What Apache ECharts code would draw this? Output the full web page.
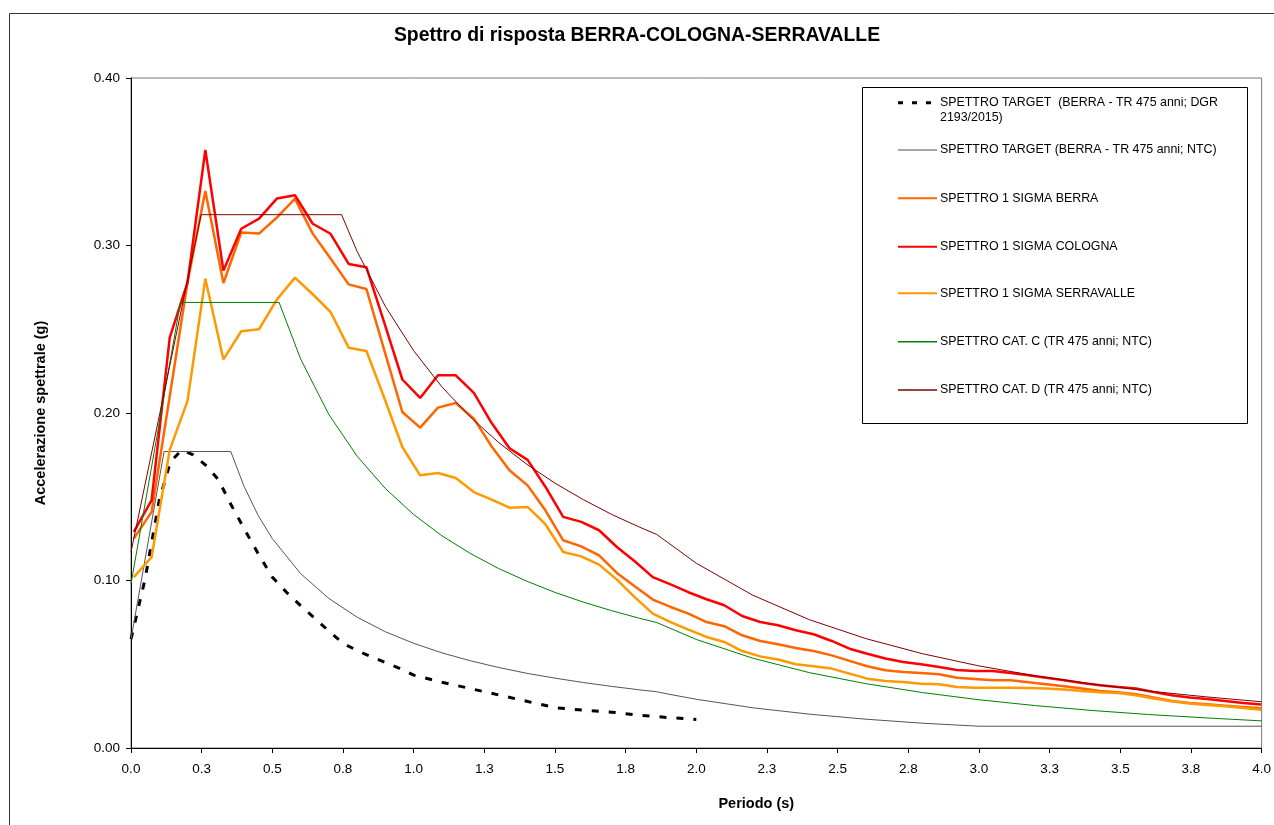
<html>

<head>
    <meta charset="utf-8" />
    <script src="https://cdn.jsdelivr.net/npm/echarts@6/dist/echarts.min.js"></script>
    <style>
        html, body { margin: 0; padding: 0; background: #fff; }
        #chart { width: 1274px; height: 825px; }
    </style>
</head>

<body>
    <div id="chart"></div>

    <script>
        // ---------------- data ----------------
        var seriesNames = [
            'SPETTRO TARGET  (BERRA - TR 475 anni; DGR 2193/2015)',
            'SPETTRO TARGET (BERRA - TR 475 anni; NTC)',
            'SPETTRO 1 SIGMA BERRA',
            'SPETTRO 1 SIGMA COLOGNA',
            'SPETTRO 1 SIGMA SERRAVALLE',
            'SPETTRO CAT. C (TR 475 anni; NTC)',
            'SPETTRO CAT. D (TR 475 anni; NTC)'
        ];

        var xTickLabels = ['0.0', '0.3', '0.5', '0.8', '1.0', '1.3', '1.5', '1.8', '2.0',
            '2.3', '2.5', '2.8', '3.0', '3.3', '3.5', '3.8', '4.0'];
        var yTickLabels = ['0.00', '0.10', '0.20', '0.30', '0.40'];

        // target DGR 2193/2015
        var dgrPeriods = [0, 0.05, 0.1, 0.14, 0.18, 0.22, 0.27, 0.31, 0.35, 0.4, 0.45, 0.5, 0.55, 0.6,
            0.65, 0.7, 0.75, 0.8, 0.85, 0.9, 0.95, 1.0, 1.1, 1.2, 1.3, 1.4, 1.5, 1.6, 1.7, 1.8, 1.9, 2.0];
        var dgrValues = [0.065, 0.101, 0.148, 0.171, 0.178, 0.175, 0.168, 0.160, 0.1465, 0.131, 0.116, 0.102,
            0.093, 0.085, 0.0775, 0.0698, 0.0625, 0.0582, 0.0545, 0.051, 0.0475, 0.0435, 0.0393, 0.0355,
            0.0317, 0.0279, 0.0241, 0.0226, 0.0214, 0.0196, 0.0182, 0.017];

        // target NTC
        var ntcPeriods = [0, 0.117, 0.353, 0.4, 0.45, 0.5, 0.6, 0.7, 0.8, 0.9, 1.0, 1.1, 1.2, 1.3, 1.4, 1.5,
            1.6, 1.7, 1.8, 1.86, 1.9, 2.0, 2.2, 2.4, 2.6, 2.8, 3.0, 3.5, 4.0];
        var ntcValues = [0.065, 0.177, 0.177, 0.1562, 0.1388, 0.125, 0.1041, 0.0893, 0.0781, 0.0694, 0.0625,
            0.0568, 0.0521, 0.0481, 0.0446, 0.0417, 0.0391, 0.0368, 0.0347, 0.0336, 0.0322, 0.0291, 0.0240,
            0.0202, 0.0172, 0.0148, 0.013, 0.013, 0.013];

        // periods of the recorded 1-sigma spectra
        var sitePeriods = [0.010, 0.073, 0.137, 0.200, 0.263, 0.327, 0.390, 0.453, 0.516, 0.580, 0.643,
            0.706, 0.770, 0.833, 0.896, 0.960, 1.023, 1.086, 1.149, 1.213, 1.276, 1.339, 1.403, 1.466,
            1.529, 1.593, 1.656, 1.719, 1.782, 1.846, 1.909, 1.972, 2.036, 2.099, 2.162, 2.226, 2.289,
            2.352, 2.415, 2.479, 2.542, 2.605, 2.669, 2.732, 2.795, 2.859, 2.922, 2.985, 3.048, 3.112,
            3.175, 3.238, 3.302, 3.365, 3.428, 3.492, 3.555, 3.618, 3.682, 3.745, 3.808, 3.871, 3.935, 3.998];

        var berra = [0.125, 0.141, 0.21, 0.278, 0.3326, 0.2776, 0.3077, 0.3071, 0.3167, 0.328, 0.3071,
            0.2922, 0.2768, 0.274, 0.2375, 0.2006, 0.1913, 0.2032, 0.206, 0.1966, 0.18, 0.1658, 0.1568,
            0.1419, 0.124, 0.1204, 0.115, 0.1045, 0.0965, 0.0886, 0.0842, 0.0802, 0.0752, 0.0727, 0.0673,
            0.0639, 0.0619, 0.0597, 0.0579, 0.0553, 0.052, 0.0488, 0.0464, 0.0454, 0.0448, 0.044, 0.042,
            0.0412, 0.0404, 0.0404, 0.0392, 0.038, 0.0368, 0.0355, 0.034, 0.0333, 0.0321, 0.0301, 0.0281,
            0.0269, 0.0261, 0.0253, 0.0245, 0.0237];

        var cologna = [0.129, 0.148, 0.245, 0.278, 0.357, 0.285, 0.310, 0.316, 0.328, 0.330, 0.313, 0.307,
            0.289, 0.287, 0.254, 0.220, 0.209, 0.2225, 0.2225, 0.212, 0.194, 0.179, 0.172, 0.156, 0.138,
            0.135, 0.130, 0.120, 0.1115, 0.102, 0.0977, 0.093, 0.0888, 0.0852, 0.0788, 0.0752, 0.0733,
            0.0703, 0.0679, 0.0639, 0.0593, 0.0563, 0.0534, 0.0514, 0.050, 0.0484, 0.0466, 0.046, 0.046,
            0.0448, 0.0434, 0.042, 0.0404, 0.0388, 0.0374, 0.0364, 0.0355, 0.0334, 0.0315, 0.0301, 0.0293,
            0.0281, 0.0269, 0.0259];

        var serravalle = [0.102, 0.114, 0.178, 0.2072, 0.2802, 0.232, 0.2488, 0.250, 0.2677, 0.2808, 0.2709,
            0.2603, 0.239, 0.237, 0.209, 0.1797, 0.1628, 0.1642, 0.1612, 0.1528, 0.1483, 0.1435, 0.1439,
            0.1336, 0.117, 0.1144, 0.1095, 0.1005, 0.0901, 0.0802, 0.0752, 0.0707, 0.0663, 0.0633, 0.0579,
            0.0547, 0.0528, 0.050, 0.0488, 0.0474, 0.0444, 0.0414, 0.040, 0.0394, 0.0384, 0.038, 0.0364,
            0.036, 0.036, 0.036, 0.0358, 0.0355, 0.0349, 0.034, 0.0333, 0.0328, 0.0315, 0.0295, 0.0279,
            0.0265, 0.0257, 0.0249, 0.0239, 0.0229];

        // NTC soil categories
        var catCPeriods = [0, 0.175, 0.524, 0.6, 0.7, 0.8, 0.9, 1.0, 1.1, 1.2, 1.3, 1.4, 1.5, 1.6, 1.7, 1.8,
            1.86, 2.0, 2.2, 2.4, 2.6, 2.8, 3.0, 3.2, 3.4, 3.6, 3.8, 4.0];
        var catCValues = [0.098, 0.266, 0.266, 0.2323, 0.1991, 0.1742, 0.1549, 0.1394, 0.1267, 0.1162, 0.1072,
            0.0996, 0.0929, 0.0871, 0.082, 0.0774, 0.0749, 0.0648, 0.0536, 0.045, 0.0384, 0.0331, 0.0288,
            0.0253, 0.0224, 0.02, 0.018, 0.0162];

        var catDPeriods = [0, 0.248, 0.745, 0.8, 0.9, 1.0, 1.1, 1.2, 1.3, 1.4, 1.5, 1.6, 1.7, 1.8, 1.86,
            2.0, 2.2, 2.4, 2.6, 2.8, 3.0, 3.2, 3.4, 3.6, 3.8, 4.0];
        var catDValues = [0.117, 0.3184, 0.3184, 0.2965, 0.2636, 0.2372, 0.2156, 0.1977, 0.1825, 0.1694,
            0.1581, 0.1483, 0.1395, 0.1318, 0.1275, 0.1103, 0.0912, 0.0766, 0.0653, 0.0563, 0.049, 0.0431,
            0.0382, 0.034, 0.0306, 0.0276];

        // ---------------- chart ----------------
        var FONT = '"Liberation Sans", Arial, sans-serif';

        var pairs = function (xs, ys) {
            return xs.map(function (x, i) { return [x, ys[i]]; });
        };

        var seriesDefs = [
            { data: pairs(dgrPeriods, dgrValues), color: '#000000', width: 3, type: [7, 10] },
            { data: pairs(ntcPeriods, ntcValues), color: '#555555', width: 1, type: 'solid' },
            { data: pairs(sitePeriods, berra), color: '#ff6600', width: 2.5, type: 'solid' },
            { data: pairs(sitePeriods, cologna), color: '#ff0000', width: 2.5, type: 'solid' },
            { data: pairs(sitePeriods, serravalle), color: '#ff9900', width: 2.5, type: 'solid' },
            { data: pairs(catCPeriods, catCValues), color: '#008000', width: 1, type: 'solid' },
            { data: pairs(catDPeriods, catDValues), color: '#800000', width: 1, type: 'solid' }
        ];

        var series = seriesDefs.map(function (d, i) {
            return {
                name: seriesNames[i],
                type: 'line',
                data: d.data,
                symbol: 'none',
                smooth: false,
                lineStyle: { color: d.color, width: d.width, type: d.type },
                itemStyle: { color: d.color },
                z: 2 + i
            };
        });

        // legend drawn by hand, like the Excel box
        var legendRowsY = [102.7, 150, 198.3, 246.7, 293.3, 341.7, 390];
        var legendEls = [{
            type: 'rect',
            shape: { x: 862.5, y: 87.5, width: 385, height: 336 },
            style: { fill: '#fff', stroke: '#000', lineWidth: 1 },
            z: 10
        }];
        seriesDefs.forEach(function (d, i) {
            legendEls.push({
                type: 'line',
                shape: { x1: 898, y1: legendRowsY[i], x2: 937, y2: legendRowsY[i] },
                style: {
                    stroke: i === 1 ? '#888' : d.color,
                    lineWidth: i === 0 ? 3 : (d.width > 1 ? 2 : 1.5),
                    lineDash: i === 0 ? [5, 9] : null
                },
                z: 11
            });
            var label = i === 0 ? 'SPETTRO TARGET  (BERRA - TR 475 anni; DGR\n2193/2015)' : seriesNames[i];
            legendEls.push({
                type: 'text',
                x: 940,
                y: legendRowsY[i] - 7.3,
                style: {
                    text: label,
                    fill: '#000',
                    font: '12.4px ' + FONT,
                    lineHeight: 14.6,
                    verticalAlign: 'top',
                    align: 'left'
                },
                z: 11
            });
        });

        // outer chart frame
        legendEls.push({
            type: 'rect',
            shape: { x: 9.5, y: 13.5, width: 1300, height: 900 },
            style: { fill: null, stroke: '#333', lineWidth: 1 },
            silent: true,
            z: 12
        });

        var myChart = echarts.init(document.getElementById('chart'), null, { renderer: 'canvas' });

        var option = {
            animation: false,
            backgroundColor: '#fff',
            title: {
                text: 'Spettro di risposta BERRA-COLOGNA-SERRAVALLE',
                left: 'center',
                top: 21,
                textStyle: { fontFamily: FONT, fontSize: 19.4, fontWeight: 'bold', color: '#000' }
            },
            grid: {
                left: 131, right: 12, top: 78, bottom: 77,
                show: true, borderColor: '#777', borderWidth: 1, backgroundColor: '#fff'
            },
            xAxis: {
                type: 'value',
                min: 0, max: 4, interval: 0.25,
                name: 'Periodo (s)',
                nameLocation: 'middle',
                nameGap: 48,
                nameTextStyle: {
                    fontFamily: FONT, fontSize: 14.5, fontWeight: 'bold', color: '#000',
                    padding: [0, 0, 0, 120]
                },
                axisLine: { onZero: false, lineStyle: { color: '#000', width: 1 } },
                axisTick: { show: true, inside: false, length: 5, lineStyle: { color: '#000' } },
                axisLabel: {
                    margin: 14,
                    fontFamily: FONT, fontSize: 13.5, color: '#000',
                    formatter: function (v) { return xTickLabels[Math.round(v / 0.25)]; }
                },
                splitLine: { show: false }
            },
            yAxis: {
                type: 'value',
                min: 0, max: 0.4, interval: 0.1,
                name: 'Accelerazione spettrale (g)',
                nameLocation: 'middle',
                nameGap: 83,
                nameTextStyle: { fontFamily: FONT, fontSize: 14.5, fontWeight: 'bold', color: '#000' },
                axisLine: { show: true, onZero: false, lineStyle: { color: '#000', width: 1 } },
                axisTick: { show: true, inside: false, length: 5, lineStyle: { color: '#000' } },
                axisLabel: {
                    margin: 11,
                    fontFamily: FONT, fontSize: 13.5, color: '#000',
                    formatter: function (v) { return yTickLabels[Math.round(v / 0.1)]; }
                },
                splitLine: { show: false }
            },
            series: series,
            graphic: legendEls
        };

        myChart.setOption(option);
    </script>
</body>

</html>
